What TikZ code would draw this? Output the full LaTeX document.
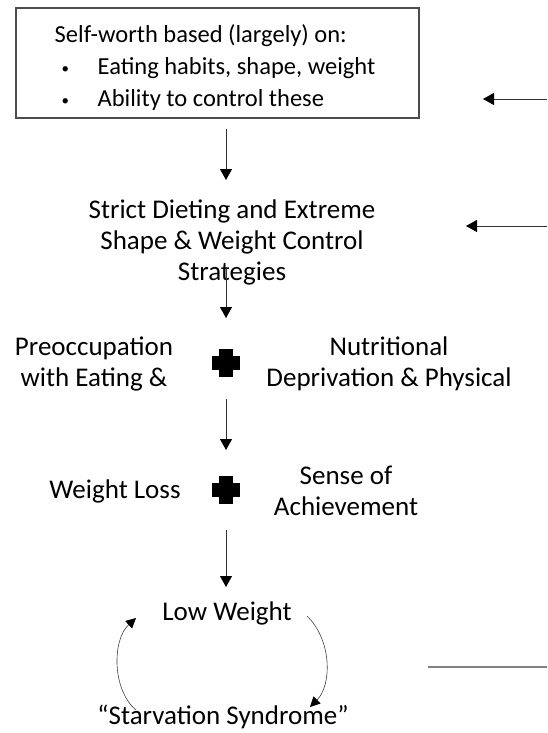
\documentclass[tikz,border=0pt]{standalone}
\usepackage{fontspec}
\setmainfont{Carlito}
\usetikzlibrary{arrows.meta}
\newcommand{\dotitem}{\hspace*{2pt}\makebox[36pt][l]{\raisebox{1pt}{\fontsize{15}{15}\selectfont\textbullet}}}
\tikzstyle{block} = [draw=black!70, line width=1.1pt, fill=white, rectangle,
    minimum width=403pt, minimum height=110pt, align=left,
    font=\fontsize{24.5}{32}\selectfont]
\tikzstyle{caption} = [align=center, inner sep=0pt]
\tikzstyle{plussign} = [minimum size=28pt, inner sep=0pt,
    path picture={\fill ([xshift=-7pt]path picture bounding box.north) rectangle ([xshift=7pt]path picture bounding box.south);
    \fill ([yshift=7pt]path picture bounding box.west) rectangle ([yshift=-7pt]path picture bounding box.east);}]
\tikzstyle{flow} = [draw=black!80, line width=0.8pt, ->]
\tikzstyle{loopline} = [draw=black!75, line width=0.6pt, -{Triangle[length=10pt,width=10pt,color=black]}]
\tikzstyle{greyline} = [draw=black!50, line width=2pt]

\begin{document}
\begin{tikzpicture}[x=1pt, y=-1pt, >={Triangle[length=11pt,width=12pt,color=black]},
    font=\fontsize{27}{31}\selectfont]
      \useasboundingbox (0,0) rectangle (547,733);
      % blocks and labels, top to bottom
      \node [block] at (217.5,63) (selfworth) {\hspace*{-5pt}\rule{0pt}{26pt}Self-worth based (largely) on:\\
          \dotitem Eating habits, shape, weight\\
          \dotitem Ability to control these};
      \node [caption] at (232,242) (strategies) {Strict Dieting and Extreme\\Shape \& Weight Control\\Strategies};
      \node [plussign] at (226,363) (plusA) {};
      \node [caption] at (94,364) (preocc) {Preoccupation\\with Eating \&};
      \node [caption] at (389,364) (nutrition) {Nutritional\\Deprivation \& Physical};
      \node [plussign] at (226,490) (plusB) {};
      \node [caption] at (115,491) (weightloss) {Weight Loss};
      \node [caption] at (346,491) (achieve) {Sense of\\Achievement};
      \node [caption] at (227,613) (lowweight) {Low Weight};
      \node [caption] at (223,717) (starvation) {``Starvation Syndrome''};

      % loose ends on the right
      \coordinate (feedA) at (547,99);
      \coordinate (tipA) at (483,99);
      \coordinate (feedB) at (547,226);
      \coordinate (tipB) at (466,226);
      \coordinate (ruleL) at (428,667);
      \coordinate (ruleR) at (547,667);

      % main column
      \draw [flow, shorten <=10pt, shorten >=62pt] (selfworth.south -| plusA) -- (strategies.center -| plusA);
      \draw [flow, shorten <=25pt, shorten >=45pt] (strategies.center -| plusA) -- (plusA.center);
      \draw [flow, shorten <=36pt, shorten >=40pt] (plusA.center) -- (plusB.center);
      \draw [flow, shorten <=40pt, shorten >=26pt] (plusB.center) -- (lowweight.center -| plusB);

      % side arrows
      \draw [flow] (feedA) -- (tipA);
      \draw [flow] (feedB) -- (tipB);
      \draw [greyline] (ruleL) -- (ruleR);

      % the vicious circle
      \draw [loopline] ([shift={(80,3)}]lowweight.center) .. controls +(25,24) and +(22,-22) .. ([shift={(87,-10)}]starvation.center);
      \draw [loopline] ([shift={(-87,-7)}]starvation.center) .. controls +(-24,-20) and +(-24,22) .. ([shift={(-91,5)}]lowweight.center);
\end{tikzpicture}
\end{document}
